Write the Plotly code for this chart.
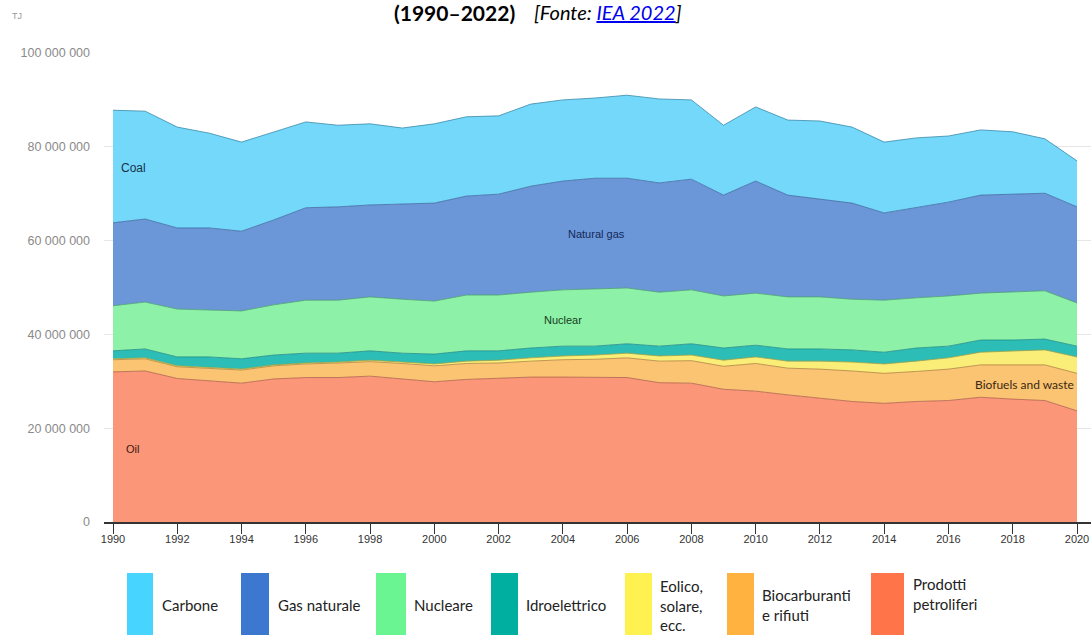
import plotly.graph_objects as go
import numpy as np

years = list(range(1990, 2021))
x_ticks = list(range(1990, 2021, 2))
y_ticks = [0, 20_000_000, 40_000_000, 60_000_000, 80_000_000, 100_000_000]

# values in millions of TJ
oil = [32.0, 32.2, 30.6, 30.1, 29.6, 30.5, 30.8, 30.8, 31.1, 30.5, 29.9, 30.4, 30.6, 30.9, 30.9, 30.8,
       30.8, 29.7, 29.6, 28.3, 27.9, 27.1, 26.4, 25.7, 25.3, 25.7, 25.9, 26.6, 26.2, 25.9, 23.7]
biofuels = [2.6, 2.6, 2.5, 2.7, 2.8, 2.8, 2.9, 3.1, 3.1, 3.3, 3.4, 3.4, 3.3, 3.4, 3.7, 3.9,
            4.2, 4.6, 4.8, 4.9, 5.9, 5.7, 6.2, 6.5, 6.4, 6.4, 6.7, 6.9, 7.3, 7.6, 8.0]
wind_solar = [0.2, 0.2, 0.2, 0.2, 0.2, 0.2, 0.2, 0.2, 0.3, 0.3, 0.4, 0.5, 0.6, 0.7, 0.8, 0.9,
              1.0, 1.1, 1.2, 1.3, 1.4, 1.5, 1.7, 1.9, 2.0, 2.2, 2.4, 2.7, 3.0, 3.2, 3.5]
hydro = [1.7, 1.9, 1.9, 2.2, 2.2, 2.1, 2.1, 1.9, 2.0, 1.9, 2.1, 2.2, 2.0, 2.1, 2.1, 1.9,
         2.0, 2.1, 2.4, 2.6, 2.5, 2.6, 2.6, 2.6, 2.5, 2.8, 2.5, 2.6, 2.3, 2.3, 2.3]
nuclear = [9.6, 10.0, 10.2, 10.0, 10.2, 10.7, 11.3, 11.3, 11.5, 11.5, 11.3, 11.9, 11.9, 11.9, 12.0, 12.2,
           11.9, 11.5, 11.5, 11.1, 11.1, 11.1, 11.1, 10.8, 11.1, 10.7, 10.7, 10.0, 10.2, 10.3, 9.2]
natural_gas = [17.7, 17.7, 17.3, 17.5, 17.0, 18.1, 19.7, 19.9, 19.6, 20.3, 20.9, 21.1, 21.5, 22.6, 23.2, 23.6,
               23.4, 23.3, 23.6, 21.5, 23.9, 21.7, 20.9, 20.5, 18.6, 19.2, 20.0, 20.9, 20.9, 20.8, 20.5]
coal = [24.0, 23.0, 21.5, 20.2, 19.0, 18.8, 18.3, 17.4, 17.3, 16.2, 16.9, 16.9, 16.7, 17.5, 17.3, 17.1,
        17.7, 17.9, 16.9, 14.9, 15.8, 16.0, 16.6, 16.2, 15.1, 14.9, 14.1, 13.9, 13.3, 11.6, 9.8]

series_names = ["Oil", "Biofuels and waste", "Wind, solar, etc.", "Hydro", "Nuclear", "Natural gas", "Coal"]
series_values = [oil, biofuels, wind_solar, hydro, nuclear, natural_gas, coal]
fill_colors = ["#FC9678", "#FAC473", "#FAEE78", "#2CBEB6", "#8DF2A8", "#6B97D8", "#74D8FB"]
line_colors = ["#b0604a", "#b08040", "#a0a040", "#1f8a88", "#4aa070", "#3d6aa0", "#3a8aa8"]

legend_labels = ["Carbone", "Gas naturale", "Nucleare", "Idroelettrico",
                 "Eolico,<br>solare,<br>ecc.", "Biocarburanti<br>e rifiuti", "Prodotti<br>petroliferi"]
legend_colors = ["#47D4FF", "#3D78D0", "#6AF592", "#00AFA0", "#FFF250", "#FFB23F", "#FF7448"]

W, H = 1091, 635
L, R, T, B = 104, 0, 53, 113
pw, ph = W - L - R, H - T - B


def px(xs):
    """screen x pixel -> paper x"""
    return (xs - L) / pw


def py(ys):
    """screen y pixel -> paper y"""
    return (H - B - ys) / ph


fig = go.Figure()
for name, vals, fc, lc in zip(series_names, series_values, fill_colors, line_colors):
    fig.add_trace(go.Scatter(
        x=years, y=np.array(vals) * 1e6, name=name, mode="lines",
        stackgroup="one", fillcolor=fc, line=dict(color=lc, width=0.8),
        showlegend=False))

label_font = "Liberation Sans"
series_labels = [
    ("Coal", 1990.2, 75.5e6, "left", "#16324a", label_font, 12),
    ("Natural gas", 2005.05, 61.4e6, "center", "#14285a", label_font, 11),
    ("Nuclear", 2004.0, 43.1e6, "center", "#153d1e", label_font, 11),
    ("Biofuels and waste", 2018.38, 29.3e6, "center", "#3a2810", "Lato", 12),
    ("Oil", 1990.6, 15.6e6, "center", "#3a1a10", label_font, 11),
]
annotations = []
for txt, xv, yv, anc, col, fam, sz in series_labels:
    annotations.append(dict(x=xv, y=yv, xref="x", yref="y", text=txt, showarrow=False,
                            xanchor=anc, yanchor="middle",
                            font=dict(family=fam, size=sz, color=col)))

# title
annotations.append(dict(
    x=px(517), y=py(12.5), xref="paper", yref="paper", showarrow=False,
    xanchor="right", yanchor="middle", text="<b>(1990–2022)</b>",
    font=dict(family="Lato", size=21, color="#000000")))
annotations.append(dict(
    x=px(532), y=py(12.5), xref="paper", yref="paper", showarrow=False,
    xanchor="left", yanchor="middle",
    text="<i>[Fonte: <span style='color:#0000EE;text-decoration:underline'>IEA 2022</span>]</i>",
    font=dict(family="Lato", size=20, color="#000000")))
annotations.append(dict(
    x=px(10), y=py(16), xref="paper", yref="paper", showarrow=False,
    xanchor="left", yanchor="middle", text="TJ",
    font=dict(family=label_font, size=9, color="#999999")))

shapes = []
box_x = [(127, 153), (241, 269), (376, 406), (491, 518), (625, 652), (727, 754), (871, 904)]
text_x = [160, 276, 412, 524, 658, 760, 911]
text_y = [605, 605, 605, 605, 605, 605, 594]
for (x0, x1), tx, ty, lab, col in zip(box_x, text_x, text_y, legend_labels, legend_colors):
    shapes.append(dict(type="rect", xref="paper", yref="paper",
                       x0=px(x0), x1=px(x1), y0=py(640), y1=py(573),
                       fillcolor=col, line=dict(width=0), layer="above"))
    annotations.append(dict(x=px(tx), y=py(ty), xref="paper", yref="paper", showarrow=False,
                            xanchor="left", yanchor="middle", align="left", text=lab,
                            font=dict(family="Lato", size=15, color="#222222")))

fig.update_layout(
    width=W, height=H,
    margin=dict(l=L, r=R, t=T, b=B, pad=0),
    plot_bgcolor="white", paper_bgcolor="white",
    separators=". ",
    annotations=annotations, shapes=shapes,
    xaxis=dict(range=[1990 - 9 / 32.13, 2020 + 14 / 32.13], tickvals=x_ticks,
               showgrid=False, zeroline=False, showline=True, linecolor="#333333", linewidth=1.5,
               ticks="outside", ticklen=10, tickwidth=1, tickcolor="#333333",
               ticklabelstandoff=-4,
               tickfont=dict(family=label_font, size=11, color="#333333")),
    yaxis=dict(range=[0, 100_000_000], tickvals=y_ticks, tickformat=",d",
               showgrid=True, gridcolor="#e6e6e6", gridwidth=1, zeroline=False,
               showline=False, ticks="", ticklabelstandoff=13,
               tickfont=dict(family=label_font, size=12.5, color="#8a8a8a")),
)

# remove the default page margin so the figure fills the window exactly
fig.write_html("out.html", config={"displayModeBar": False},
               post_script="document.body.style.margin='0';")
